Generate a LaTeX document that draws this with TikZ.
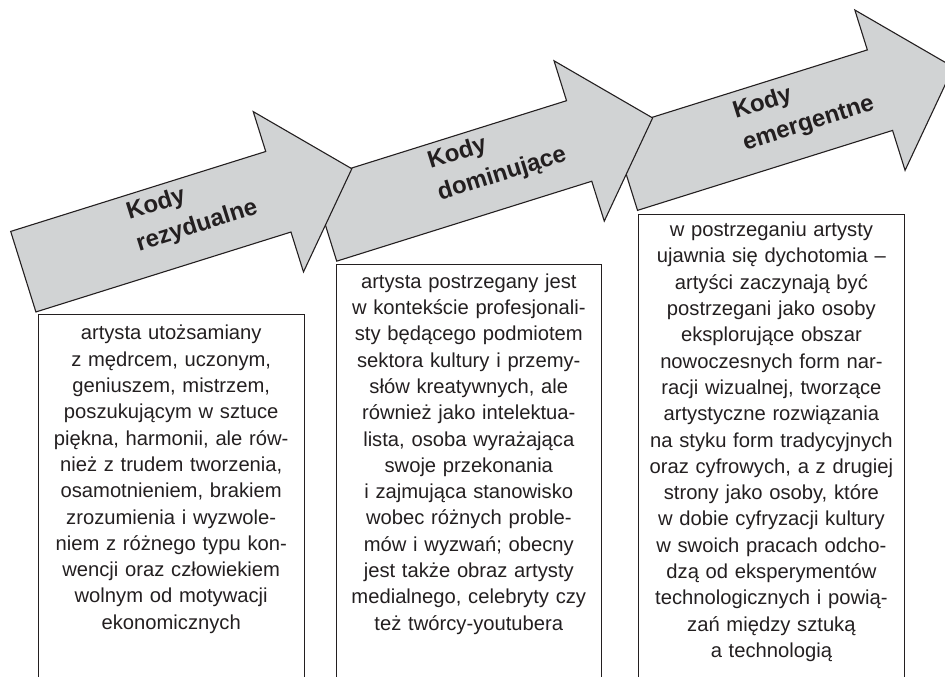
\documentclass[tikz,border=0pt]{standalone}
\usepackage{fontspec}
\setmainfont{Liberation Sans}
\definecolor{ink}{RGB}{35,31,32}
\definecolor{arrowgray}{RGB}{209,211,212}
\begin{document}
\begin{tikzpicture}[x=1pt,y=1pt,
  bigarrow/.style={draw=ink, fill=arrowgray, line width=1.1pt, line join=miter},
  boxline/.style={draw=ink, line width=1pt},
  boxtext/.style={text=ink, font=\fontsize{20.2}{26.3}\selectfont, align=center, text width=262pt, inner sep=0pt, anchor=base},
  titletext/.style={text=ink, font=\fontsize{24}{33}\selectfont\bfseries, align=left, text width=138pt, inner sep=0pt, anchor=base west, rotate=17.4}]
\useasboundingbox (0,0) rectangle (945,677);
\clip (0,0) rectangle (945,677);

% arrows: drawn from the last to the first so that each lies over the next
\begin{scope}[shift={(624.9,506.9)}, rotate=17.4]
  \draw[bigarrow] (0,-42.2) -- (0,42.2) -- (267.3,42.2) -- (267.3,84) -- (344.3,0) -- (267.3,-84) -- (267.3,-42.2) -- cycle;
  \node[titletext] (t3) at (121,16) {Kody\\emergentne};
\end{scope}
\begin{scope}[shift={(324.1,456.1)}, rotate=17.4]
  \draw[bigarrow] (0,-42.2) -- (0,42.2) -- (267.3,42.2) -- (267.3,84) -- (344.3,0) -- (267.3,-84) -- (267.3,-42.2) -- cycle;
  \node[titletext] (t2) at (117,18) {Kody\\dominujące};
\end{scope}
\begin{scope}[shift={(23.3,405.3)}, rotate=17.4]
  \draw[bigarrow] (0,-42.2) -- (0,42.2) -- (267.3,42.2) -- (267.3,84) -- (344.3,0) -- (267.3,-84) -- (267.3,-42.2) -- cycle;
  \node[titletext] (t1) at (116.5,18) {Kody\\rezydualne};
\end{scope}

% open boxes
\coordinate (b1a) at (38.3,0);  \coordinate (b1b) at (38.3,362.7);
\coordinate (b1c) at (304,362.7); \coordinate (b1d) at (304,0);
\coordinate (b2a) at (336.7,0); \coordinate (b2b) at (336.7,412.7);
\coordinate (b2c) at (601,412.7); \coordinate (b2d) at (601,0);
\coordinate (b3a) at (638.3,0); \coordinate (b3b) at (638.3,462.7);
\coordinate (b3c) at (904.5,462.7); \coordinate (b3d) at (904.5,0);
\draw[boxline] (b1a) -- (b1b) -- (b1c) -- (b1d);
\draw[boxline] (b2a) -- (b2b) -- (b2c) -- (b2d);
\draw[boxline] (b3a) -- (b3b) -- (b3c) -- (b3d);

\node[boxtext] (x1) at (171.2,337) {artysta utożsamiany\\
z mędrcem, uczonym,\\
geniuszem, mistrzem,\\
poszukującym w sztuce\\
piękna, harmonii, ale rów-\\
nież z trudem tworzenia,\\
osamotnieniem, brakiem\\
zrozumienia i wyzwole-\\
niem z różnego typu kon-\\
wencji oraz człowiekiem\\
wolnym od motywacji\\
ekonomicznych};

\node[boxtext] (x2) at (468.8,388.7) {artysta postrzegany jest\\
w kontekście profesjonali-\\
sty będącego podmiotem\\
sektora kultury i przemy-\\
słów kreatywnych, ale\\
również jako intelektua-\\
lista, osoba wyrażająca\\
swoje przekonania\\
i zajmująca stanowisko\\
wobec różnych proble-\\
mów i wyzwań; obecny\\
jest także obraz artysty\\
medialnego, celebryty czy\\
też twórcy-youtubera};

\node[boxtext] (x3) at (771.4,440.3) {w postrzeganiu artysty\\
ujawnia się dychotomia --\\
artyści zaczynają być\\
postrzegani jako osoby\\
eksplorujące obszar\\
nowoczesnych form nar-\\
racji wizualnej, tworzące\\
artystyczne rozwiązania\\
na styku form tradycyjnych\\
oraz cyfrowych, a z drugiej\\
strony jako osoby, które\\
w dobie cyfryzacji kultury\\
w swoich pracach odcho-\\
dzą od eksperymentów\\
technologicznych i powią-\\
zań między sztuką\\
a technologią};
\end{tikzpicture}
\end{document}
